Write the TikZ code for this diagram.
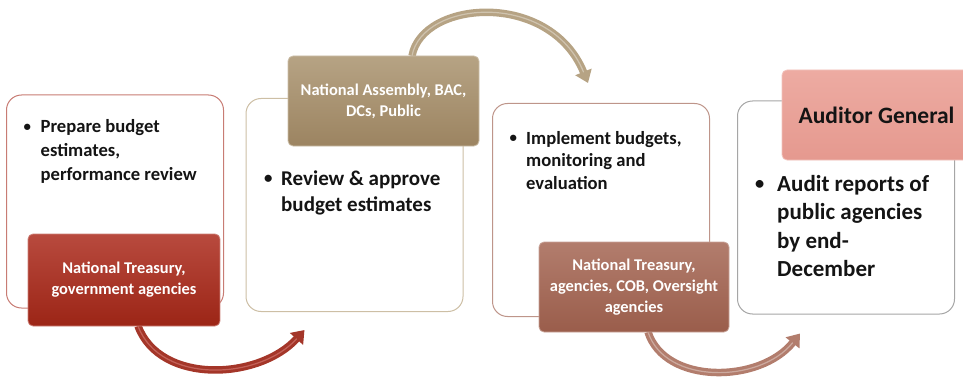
\documentclass[tikz,border=0pt]{standalone}
\usepackage{fontspec}
\setmainfont{Carlito}
\usetikzlibrary{arrows.meta}

% panel outlines
\definecolor{panelRed}{HTML}{C87C74}
\definecolor{panelTan}{HTML}{CDBFA5}
\definecolor{panelBrown}{HTML}{BE958A}
\definecolor{panelGray}{HTML}{A6A6A6}
% tag fills (top / bottom)
\definecolor{redTop}{HTML}{B84A3E}
\definecolor{redBot}{HTML}{9C2516}
\definecolor{tanTop}{HTML}{B6A384}
\definecolor{tanBot}{HTML}{9C8461}
\definecolor{brownTop}{HTML}{B27D6D}
\definecolor{brownBot}{HTML}{9A5D4B}
\definecolor{pinkTop}{HTML}{EDABA2}
\definecolor{pinkBot}{HTML}{E5998F}
\definecolor{ink}{HTML}{141414}

% a slightly smaller bullet
\newcommand{\dotmark}[1]{\makebox[#1][l]{\raisebox{0.08em}{\scalebox{0.8}{•}}}}

\begin{document}
\begin{tikzpicture}[x=1pt,y=-1pt,
  panel/.style={draw=#1, line width=1pt, fill=white, rounded corners=15pt,
    inner sep=0pt, minimum width=217pt, minimum height=213pt},
  tag/.style n args={2}{draw=#1!70!white, line width=0.8pt, top color=#1,
    bottom color=#2, rounded corners=5pt, inner sep=0pt,
    minimum width=191pt, minimum height=90pt, align=center,
    text=white, font={\fontsize{16.4}{21}\selectfont\bfseries}},
  bullets/.style={anchor=base west, inner sep=0pt, text=ink},
  flow/.style={line width=7.5pt, draw=#1,
    -{Triangle[width=17pt,length=12pt]}},
  gloss/.style={line width=1.2pt, draw=#1, line cap=round, shorten >=12pt}
]
\useasboundingbox (0,0) rectangle (963,377);

% white panels
\node[panel=panelRed]   (p1) at (115,201.5) {};
\node[panel=panelTan]   (p2) at (354.5,205) {};
\node[panel=panelBrown] (p3) at (601,210) {};
\node[panel=panelGray]  (p4) at (846,207.5) {};

% panel texts
\node[bullets, font={\fontsize{18.6}{24}\selectfont\bfseries}] (t1) at (23.5,132.5)
  {\begin{tabular}[t]{@{}l@{}}\dotmark{17pt}Prepare budget\\
   \hspace{17pt}estimates,\\ \hspace{17pt}performance review\end{tabular}};
\node[bullets, font={\fontsize{21}{26.7}\selectfont\bfseries}] (t2) at (264,185)
  {\begin{tabular}[t]{@{}l@{}}\dotmark{17pt}Review \& approve\\
   \hspace{17pt}budget estimates\end{tabular}};
\node[bullets, font={\fontsize{18.6}{22.5}\selectfont\bfseries}] (t3) at (509.5,144)
  {\begin{tabular}[t]{@{}l@{}}\dotmark{16.5pt}Implement budgets,\\
   \hspace{16.5pt}monitoring and\\ \hspace{16.5pt}evaluation\end{tabular}};
\node[bullets, font={\fontsize{23}{28.6}\selectfont\bfseries}] (t4) at (755,191)
  {\begin{tabular}[t]{@{}l@{}}\dotmark{22pt}Audit reports of\\
   \hspace{22pt}public agencies\\ \hspace{22pt}by end-\\ \hspace{22pt}December\end{tabular}};

% tag anchors used by the arrows
\coordinate (tg1) at (124,280);
\coordinate (tg2) at (383.5,101);
\coordinate (tg3) at (634,287);

% curved arrows between the stages
\coordinate (a1s) at ([shift={(14,46)}]tg1);
\coordinate (a1e) at ([shift={(59,18)}]p2.south west);
\coordinate (a2s) at ([shift={(28.5,-45)}]tg2);
\coordinate (a2e) at ([shift={(96,-20)}]p3.north west);
\coordinate (a3s) at ([shift={(14,45)}]tg3);
\coordinate (a3e) at ([shift={(63,19)}]p4.south west);

\draw[flow=redBot!92!white] (a1s) .. controls +(22,59) and +(-45,50) .. (a1e);
\draw[gloss=red!30!white, opacity=0.35] (a1s) .. controls +(22,59) and +(-45,50) .. (a1e);
\draw[flow=tanTop] (a2s) .. controls +(10,-56) and +(-38,-93) .. (a2e);
\draw[gloss=white, opacity=0.35] (a2s) .. controls +(10,-56) and +(-38,-93) .. (a2e);
\draw[flow=brownTop] (a3s) .. controls +(17,53) and +(-40,50) .. (a3e);
\draw[gloss=white, opacity=0.35] (a3s) .. controls +(17,53) and +(-40,50) .. (a3e);

% coloured tags
\node[tag={redTop}{redBot}, minimum width=192pt, minimum height=92pt] (g1) at (tg1)
  {National Treasury,\\government agencies};
\node[tag={tanTop}{tanBot}] (g2) at (tg2)
  {National Assembly, BAC,\\DCs, Public};
\node[tag={brownTop}{brownBot}, minimum width=190pt] (g3) at (tg3)
  {National Treasury,\\agencies, COB, Oversight\\agencies};
\node[tag={pinkTop}{pinkBot}, minimum width=189pt, text=ink,
  font={\fontsize{23.5}{28}\selectfont\bfseries}] (g4) at (876.5,115)
  {Auditor General};
\end{tikzpicture}
\end{document}
